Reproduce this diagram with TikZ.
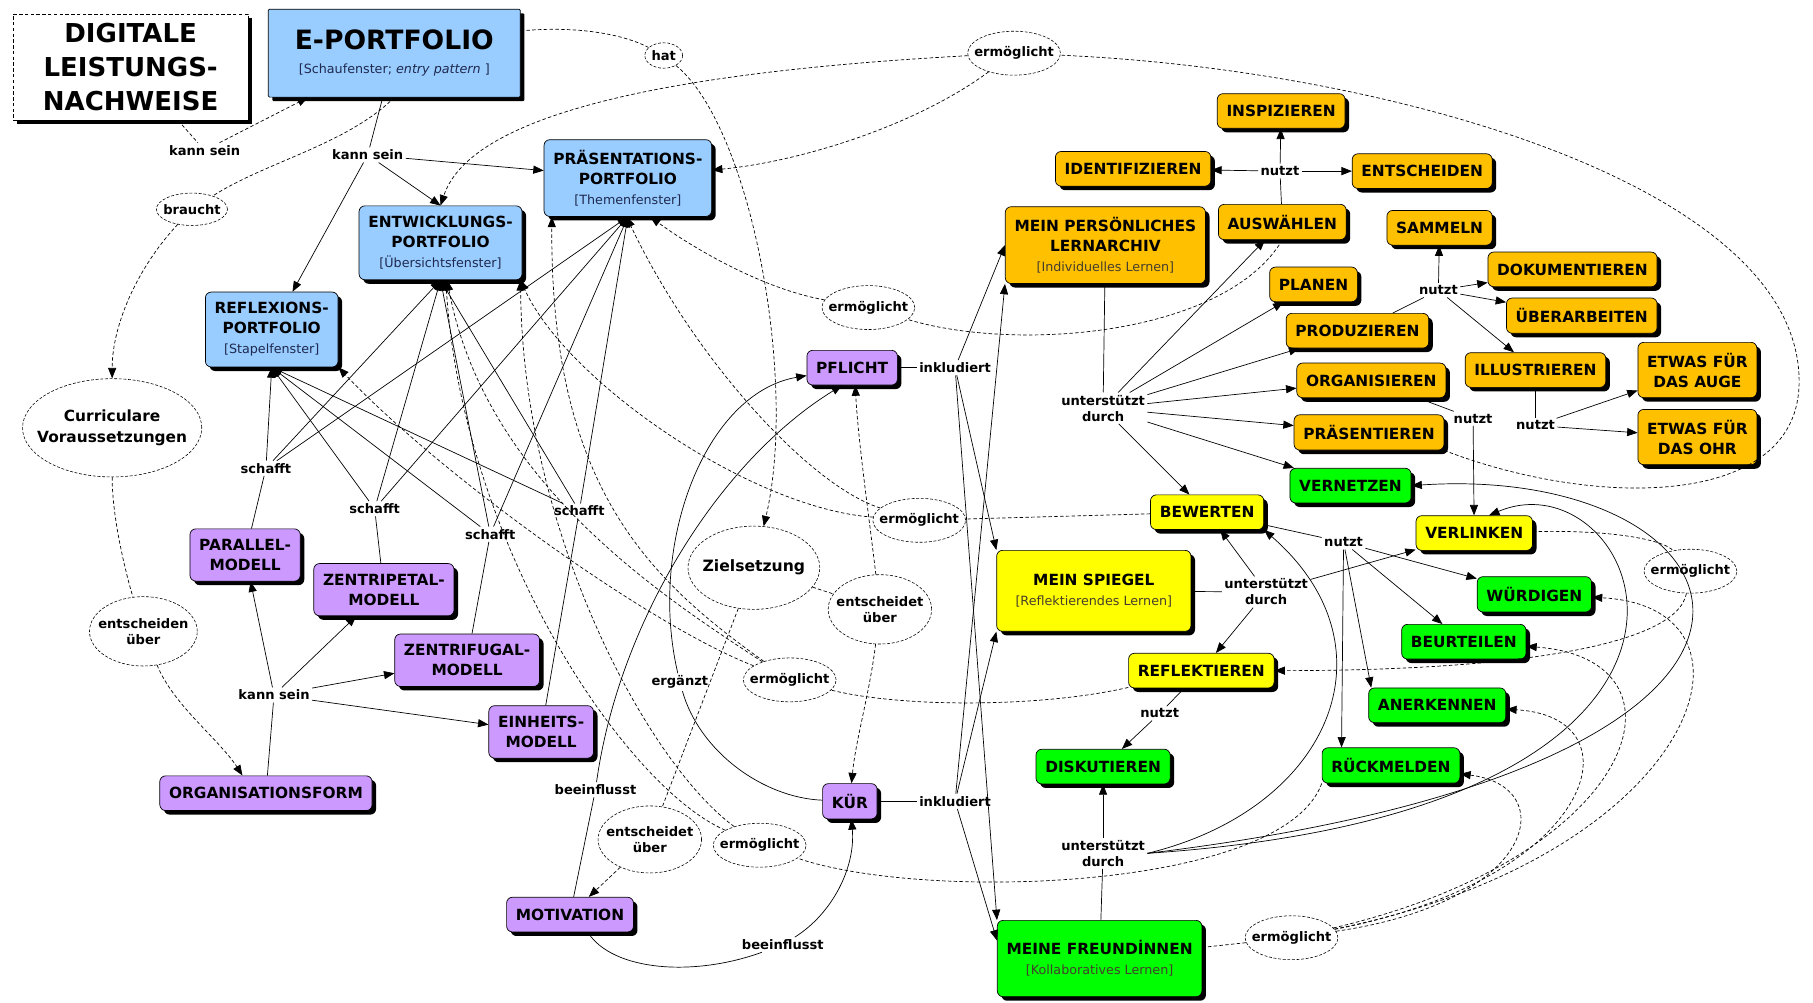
\documentclass[tikz,border=0pt]{standalone}
\usepackage{fontspec}
\setmainfont{DejaVu Sans}
\usetikzlibrary{arrows.meta,shapes.geometric,shadows}

\definecolor{portblau}{RGB}{153,204,255}
\definecolor{modlila}{RGB}{204,153,255}
\definecolor{archorange}{RGB}{255,192,0}
\definecolor{spiegelgelb}{RGB}{255,255,0}
\definecolor{freundgruen}{RGB}{0,255,0}
\definecolor{subblau}{RGB}{30,42,80}
\definecolor{subgrau}{RGB}{70,62,45}

\newcommand{\cfont}{\bfseries\fontsize{13.3}{17.3}\selectfont}
\newcommand{\lfont}{\bfseries\fontsize{11.3}{13.8}\selectfont}
\newcommand{\tfont}{\bfseries\fontsize{22.5}{29.4}\selectfont}
\newcommand{\bsub}[1]{{\mdseries\fontsize{11}{17.3}\selectfont\color{subblau}#1}}
\newcommand{\gsub}[1]{{\mdseries\fontsize{11}{17.3}\selectfont\color{subgrau}#1}}

\begin{document}
\begin{tikzpicture}[x=1pt, y=-1pt,
      shad/.style={drop shadow={shadow xshift=3.5pt, shadow yshift=-3.5pt, opacity=1, fill=black}},
      box/.style={draw, line width=0.6pt, rounded corners=5pt, align=center, font=\cfont,
         inner xsep=8pt, inner ysep=9pt, minimum height=30pt, shad},
      portbox/.style={box, fill=portblau},
      modbox/.style={box, fill=modlila},
      archbox/.style={box, fill=archorange},
      spbox/.style={box, fill=spiegelgelb},
      frbox/.style={box, fill=freundgruen},
      lbl/.style={font=\lfont, align=center, inner sep=2pt},
      oval/.style={ellipse, draw, line width=0.5pt, dash pattern=on 2.5pt off 1.5pt, font=\lfont,
         align=center, inner xsep=-6pt, inner ysep=0pt, minimum height=38pt},
      con/.style={line width=0.6pt},
      arr/.style={con, -{Triangle[length=9pt, width=7pt]}},
      dcon/.style={con, dash pattern=on 3pt off 2pt},
      darr/.style={arr, dash pattern=on 3pt off 2pt}]

      \useasboundingbox (0,0) rectangle (1568,867);

      \node [draw, line width=0.6pt, dash pattern=on 3pt off 2pt, fill=white, shad, font=\tfont, align=center,
         minimum width=203pt, minimum height=92pt] (dln) at (113,58) {DIGITALE\\LEISTUNGS-\\NACHWEISE};
      \node [portbox, rounded corners=1pt, font=\bfseries\fontsize{11}{21}\selectfont,
         minimum width=218pt, minimum height=76pt] (eport) at (341,46)
         {{\fontsize{23}{27}\selectfont E-PORTFOLIO}\\\bsub{[Schaufenster; \textit{entry pattern} ]}};
      \node [portbox] (praes) at (543,154) {PRÄSENTATIONS-\\PORTFOLIO\\\bsub{[Themenfenster]}};
      \node [portbox] (entw) at (381,210) {ENTWICKLUNGS-\\PORTFOLIO\\\bsub{[Übersichtsfenster]}};
      \node [portbox] (refl) at (235,285) {REFLEXIONS-\\PORTFOLIO\\\bsub{[Stapelfenster]}};

      \node [oval, font=\cfont, inner xsep=-10pt, minimum height=85pt] (curr) at (97,370) {Curriculare\\Voraussetzungen};
      \node [oval, inner xsep=-3pt, minimum height=28pt] (brau) at (166,181) {braucht};
      \node [lbl] (ks1) at (177,130) {kann sein};
      \node [lbl] (ks2) at (318,134) {kann sein};
      \node [oval, inner xsep=1pt, minimum height=22pt] (hat) at (574,48) {hat};
      \node [oval] (ermA) at (877,46) {ermöglicht};
      \node [oval] (ermB) at (751,266) {ermöglicht};

      \node [modbox] (par) at (212,480) {PARALLEL-\\MODELL};
      \node [modbox] (zpet) at (332,510) {ZENTRIPETAL-\\MODELL};
      \node [modbox] (zfug) at (404,571) {ZENTRIFUGAL-\\MODELL};
      \node [modbox] (einh) at (468,633) {EINHEITS-\\MODELL};
      \node [modbox] (orgf) at (230,686) {ORGANISATIONSFORM};
      \node [lbl] (ks3) at (237,601) {kann sein};
      \node [oval, minimum height=60pt] (entsc) at (124,546) {entscheiden\\über};
      \node [lbl] (sch1) at (230,405) {schafft};
      \node [lbl] (sch2) at (324,440) {schafft};
      \node [lbl] (sch3) at (424,462) {schafft};
      \node [lbl] (sch4) at (501,442) {schafft};

      \node [modbox] (pfl) at (737,318) {PFLICHT};
      \node [lbl] (ink1) at (826,318) {inkludiert};
      \node [modbox] (kuer) at (735,693) {KÜR};
      \node [lbl] (ink2) at (826,693) {inkludiert};
      \node [oval, font=\bfseries\fontsize{13.5}{16}\selectfont, inner xsep=-4pt, minimum height=72pt] (ziel) at (652,491) {Zielsetzung};
      \node [oval, minimum height=60pt] (eu1) at (761,527) {entscheidet\\über};
      \node [oval, minimum height=58pt] (eu2) at (562,726) {entscheidet\\über};
      \node [lbl] (erg) at (588,590) {ergänzt};
      \node [oval] (ermC) at (683,588) {ermöglicht};
      \node [oval] (ermD) at (657,731) {ermöglicht};
      \node [lbl] (bee1) at (515,683) {beeinflusst};
      \node [lbl] (bee2) at (677,817) {beeinflusst};
      \node [modbox] (motiv) at (493,791) {MOTIVATION};
      \node [oval] (ermE) at (795,450) {ermöglicht};

      \node [archbox] (archiv) at (956,212) {MEIN PERSÖNLICHES\\LERNARCHIV\\\gsub{[Individuelles Lernen]}};
      \node [lbl] (ud1) at (954,353) {unterstützt\\durch};
      \node [archbox] (insp) at (1108,96) {INSPIZIEREN};
      \node [archbox] (ident) at (980,146) {IDENTIFIZIEREN};
      \node [lbl] (nz1) at (1107,148) {nutzt};
      \node [archbox] (entsch) at (1230,148) {ENTSCHEIDEN};
      \node [archbox] (ausw) at (1109,192) {AUSWÄHLEN};
      \node [archbox] (samm) at (1245,197) {SAMMELN};
      \node [archbox] (plan) at (1136,246) {PLANEN};
      \node [lbl] (nz2) at (1244,251) {nutzt};
      \node [archbox] (doku) at (1360,233) {DOKUMENTIEREN};
      \node [archbox] (ueber) at (1368,273) {ÜBERARBEITEN};
      \node [archbox] (prod) at (1174,286) {PRODUZIEREN};
      \node [archbox] (orgs) at (1186,329) {ORGANISIEREN};
      \node [archbox] (illu) at (1328,320) {ILLUSTRIEREN};
      \node [archbox] (auge) at (1468,320) {ETWAS FÜR\\DAS AUGE};
      \node [archbox] (ohr) at (1468,378) {ETWAS FÜR\\DAS OHR};
      \node [lbl] (nz3) at (1274,362) {nutzt};
      \node [lbl] (nz4) at (1328,368) {nutzt};
      \node [archbox] (praesn) at (1184,374) {PRÄSENTIEREN};

      \node [frbox] (vern) at (1168,420) {VERNETZEN};
      \node [spbox] (bew) at (1044,443) {BEWERTEN};
      \node [spbox] (verl) at (1275,461) {VERLINKEN};
      \node [lbl] (nz5) at (1162,469) {nutzt};
      \node [spbox, minimum width=168pt, minimum height=70pt] (spieg) at (946,511) {MEIN SPIEGEL\\\gsub{[Reflektierendes Lernen]}};
      \node [lbl] (ud2) at (1095,512) {unterstützt\\durch};
      \node [frbox] (wuerd) at (1327,514) {WÜRDIGEN};
      \node [frbox] (beurt) at (1266,555) {BEURTEILEN};
      \node [spbox] (reflk) at (1039,580) {REFLEKTIEREN};
      \node [oval] (ermF) at (1462,494) {ermöglicht};
      \node [frbox] (anerk) at (1243,610) {ANERKENNEN};
      \node [lbl] (nz6) at (1003,617) {nutzt};
      \node [frbox] (disk) at (954,663) {DISKUTIEREN};
      \node [frbox] (rueck) at (1203,662) {RÜCKMELDEN};
      \node [lbl] (ud3) at (954,738) {unterstützt\\durch};
      \node [frbox, minimum height=66pt] (freund) at (951,829) {MEINE FREUNDİNNEN\\\gsub{[Kollaboratives Lernen]}};
      \node [oval] (ermG) at (1117,811) {ermöglicht};

      \coordinate (loopR) at (1556,330);

      \draw [dcon] (dln) -- (ks1);
      \draw [darr] (ks1) -- (eport);

      \draw [dcon] (eport.south) .. controls (300,125) and (230,140) .. (brau);
      \draw [darr] (brau) .. controls (120,230) and (97,280) .. (curr);
      \draw [dcon] (curr) .. controls (97,450) and (110,500) .. (entsc);
      \draw [darr] (entsc) .. controls (150,610) and (190,640) .. (orgf.143);

      \draw [dcon] (eport.10) .. controls (500,22) and (540,30) .. (hat);
      \draw [darr] (hat) .. controls (650,110) and (690,330) .. (ziel);

      \draw [darr] (ermA) .. controls (620,60) and (410,90) .. (entw.north);
      \draw [darr] (ermA) .. controls (790,110) and (690,140) .. (praes);
      \draw [dcon] (praesn.south east) .. controls (1380,440) and (1556,440) .. (loopR)
         .. controls (1556,160) and (1200,60) .. (ermA);

      \draw [dcon] (ausw.south) .. controls (1060,290) and (880,305) .. (ermB);
      \draw [darr] (ermB) .. controls (660,250) and (600,215) .. (praes.-60);

      \draw [dcon] (bew) -- (ermE);
      \draw [darr] (ermE) .. controls (700,420) and (600,310) .. (praes.-92);
      \draw [darr] (ermE) .. controls (650,440) and (490,330) .. (entw.-25);

      \draw [dcon] (reflk) .. controls (900,612) and (780,612) .. (ermC);
      \draw [darr] (ermC) .. controls (560,540) and (380,410) .. (refl.south east);
      \draw [darr] (ermC) .. controls (580,520) and (420,420) .. (entw.-80);
      \draw [darr] (ermC) .. controls (560,500) and (476,420) .. (praes.-153);

      \draw [dcon] (rueck.south west) .. controls (1110,770) and (800,780) .. (ermD);
      \draw [darr] (ermD) .. controls (560,660) and (452,460) .. (entw.-25);
      \draw [darr] (ermD) .. controls (540,680) and (400,470) .. (entw.-82);

      \draw [dcon] (ziel) -- (eu1);
      \draw [darr] (eu1) .. controls (752,450) and (742,380) .. (pfl.-80);
      \draw [darr] (eu1) .. controls (752,600) and (740,640) .. (kuer);
      \draw [dcon] (ziel) -- (eu2);
      \draw [darr] (eu2) -- (motiv);

      \draw [dcon] (verl) .. controls (1400,458) and (1440,468) .. (ermF);
      \draw [darr] (ermF) .. controls (1450,560) and (1300,580) .. (reflk);

      \draw [dcon] (freund) -- (ermG);
      \draw [darr] (ermG) .. controls (1470,740) and (1540,525) .. (wuerd);
      \draw [darr] (ermG) .. controls (1420,740) and (1470,570) .. (beurt);
      \draw [darr] (ermG) .. controls (1380,760) and (1420,620) .. (anerk);
      \draw [darr] (ermG) .. controls (1330,780) and (1350,680) .. (rueck);

      \draw [con] (eport) -- (ks2);
      \draw [arr] (ks2) -- (refl);
      \draw [arr] (ks2) -- (entw.north);
      \draw [arr] (ks2) -- (praes);

      \draw [con] (par) -- (sch1);
      \draw [arr] (sch1) -- (refl.south);
      \draw [arr] (sch1) -- (entw.south);
      \draw [arr] (sch1) -- (praes.south);

      \draw [con] (zpet) -- (sch2);
      \draw [arr] (sch2) -- (refl.south);
      \draw [arr] (sch2) -- (entw.south);
      \draw [arr] (sch2) -- (praes.south);

      \draw [con] (zfug) -- (sch3);
      \draw [arr] (sch3) -- (refl.south);
      \draw [arr] (sch3) -- (entw.south);
      \draw [arr] (sch3) -- (praes.south);

      \draw [con] (einh) -- (sch4);
      \draw [arr] (sch4) -- (refl.south);
      \draw [arr] (sch4) -- (entw.south);
      \draw [arr] (sch4) -- (praes.south);

      \draw [con] (orgf) -- (ks3);
      \draw [arr] (ks3) -- (par);
      \draw [arr] (ks3) -- (zpet);
      \draw [arr] (ks3) -- (zfug);
      \draw [arr] (ks3) -- (einh);

      \draw [con] (pfl) -- (ink1);
      \draw [arr] (ink1) -- (archiv.west);
      \draw [arr] (ink1) -- (spieg.north west);
      \draw [arr] (ink1) -- (freund.north west);

      \draw [con] (kuer) -- (ink2);
      \draw [arr] (ink2) -- (archiv.south west);
      \draw [arr] (ink2) -- (spieg.south west);
      \draw [arr] (ink2) -- (freund.170);

      \draw [con] (motiv) -- (bee1);
      \draw [arr] (bee1) .. controls (535,540) and (620,400) .. (pfl.-120);
      \draw [con] (motiv.-45) .. controls (530,840) and (600,845) .. (bee2);
      \draw [arr] (bee2) .. controls (720,790) and (740,750) .. (kuer);

      \draw [con] (kuer) .. controls (660,690) and (605,650) .. (erg);
      \draw [arr] (erg) .. controls (560,470) and (610,340) .. (pfl);

      \draw [con] (archiv) -- (ud1);
      \draw [arr] (ud1) -- (ausw);
      \draw [arr] (ud1) -- (plan);
      \draw [arr] (ud1) -- (prod);
      \draw [arr] (ud1) -- (orgs);
      \draw [arr] (ud1) -- (praesn);
      \draw [arr] (ud1) -- (vern);
      \draw [arr] (ud1) -- (bew);

      \draw [con] (ausw) -- (nz1);
      \draw [arr] (nz1) -- (insp);
      \draw [arr] (nz1) -- (ident);
      \draw [arr] (nz1) -- (entsch);

      \draw [con] (prod) -- (nz2);
      \draw [arr] (nz2) -- (samm);
      \draw [arr] (nz2) -- (doku);
      \draw [arr] (nz2) -- (ueber);
      \draw [arr] (nz2) -- (illu);

      \draw [con] (orgs) -- (nz3);
      \draw [arr] (nz3) -- (verl);

      \draw [con] (illu) -- (nz4);
      \draw [arr] (nz4) -- (auge);
      \draw [arr] (nz4) -- (ohr);

      \draw [con] (spieg) -- (ud2);
      \draw [arr] (ud2) -- (bew);
      \draw [arr] (ud2) -- (reflk);
      \draw [arr] (ud2) -- (verl);

      \draw [con] (bew) -- (nz5);
      \draw [arr] (nz5) -- (wuerd);
      \draw [arr] (nz5) -- (beurt);
      \draw [arr] (nz5) -- (anerk.165);
      \draw [arr] (nz5) -- (rueck.160);

      \draw [con] (reflk) -- (nz6);
      \draw [arr] (nz6) -- (disk);

      \draw [con] (freund) -- (ud3);
      \draw [arr] (ud3) -- (disk);
      \draw [arr] (ud3.east) .. controls (1150,700) and (1210,560) .. (bew.south east);
      \draw [arr] (ud3.east) .. controls (1560,700) and (1420,390) .. (verl.50);
      \draw [arr] (ud3.east) .. controls (1640,660) and (1520,400) .. (vern.east);

   \end{tikzpicture}
\end{document}
